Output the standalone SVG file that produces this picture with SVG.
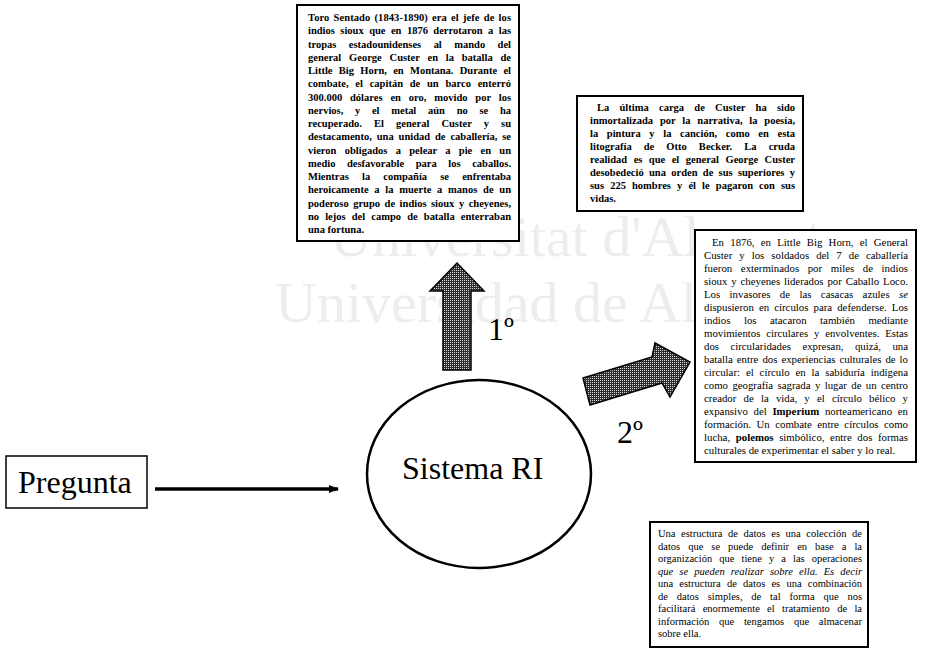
<svg xmlns="http://www.w3.org/2000/svg" width="925" height="651" viewBox="0 0 925 651">
  <defs>
    <!-- fine dither used to fill the two block arrows -->
    <pattern id="dither" width="2" height="2" patternUnits="userSpaceOnUse">
      <rect width="2" height="2" fill="#2e2e2e"/>
      <rect width="1" height="1" fill="#d8d8d8"/>
    </pattern>
    <marker id="head" viewBox="0 0 10 8" refX="9" refY="4" markerWidth="10" markerHeight="8" markerUnits="userSpaceOnUse" orient="auto">
      <path d="M0,0 L10,4 L0,8 Z" fill="#000"/>
    </marker>
    <style>
      .serif { font-family: "Liberation Serif", "Times New Roman", serif; fill: #000; }
      .big { font-size: 32px; }
      .note { fill: #fff; stroke: #000; stroke-width: 2; }
      .b { font-size: 10.5px; font-weight: bold; }
      .r { font-size: 10.8px; }
      .s { font-size: 10.5px; }
      .wm { font-family: "Liberation Serif", "Times New Roman", serif; font-size: 58px; fill: #ededed; }
      .blk { fill: url(#dither); stroke: #000; stroke-width: 1.5; stroke-linejoin: miter; }
    </style>
  </defs>

  <rect width="925" height="651" fill="#fff"/>

  <!-- faint background watermark -->
  <g id="watermark">
    <text class="wm" x="330" y="256">Universitat d'Alacant</text>
    <text class="wm" x="275" y="322">Universidad de Alicante</text>
  </g>

  <!-- connectors -->
  <g id="connectors">
    <line x1="155" y1="489" x2="338" y2="489" stroke="#000" stroke-width="3.5" marker-end="url(#head)"/>
    <!-- 1st: upward block arrow -->
    <polygon class="blk" points="443,370 443,291 430,291 457,263 484,291 471,291 471,370"/>
    <text class="serif big" x="488" y="340">1º</text>
    <!-- 2nd: block arrow toward the right -->
    <polygon class="blk" points="583,378 652,357 655,343 690,362 670,397 662,383 590,405"/>
    <text class="serif big" x="617" y="443">2º</text>
  </g>

  <g id="node-pregunta">
    <rect x="6" y="456" width="141" height="52" fill="#fff" stroke="#000" stroke-width="1.5"/>
    <text class="serif big" x="18" y="493">Pregunta</text>
  </g>

  <g id="node-sistema">
    <ellipse cx="479" cy="474" rx="112" ry="94" fill="#fff" stroke="#000" stroke-width="2.5"/>
    <text class="serif big" x="402" y="479">Sistema RI</text>
  </g>

  <g id="note-toro">
    <rect class="note" x="297" y="5" width="222" height="236"/>
    <g class="serif b">
      <text x="308" y="21" word-spacing="1.4" textLength="203" lengthAdjust="spacing">Toro Sentado (1843-1890) era el jefe de los</text>
      <text x="308" y="34.25" word-spacing="2.8" textLength="203" lengthAdjust="spacing">indios sioux que en 1876 derrotaron a las</text>
      <text x="308" y="47.5" word-spacing="9.8" textLength="203" lengthAdjust="spacing">tropas estadounidenses al mando del</text>
      <text x="308" y="60.75" word-spacing="5.15" textLength="203" lengthAdjust="spacing">general George Custer en la batalla de</text>
      <text x="308" y="74" word-spacing="3.7" textLength="203" lengthAdjust="spacing">Little Big Horn, en Montana. Durante el</text>
      <text x="308" y="87.25" word-spacing="4.1" textLength="203" lengthAdjust="spacing">combate, el capitán de un barco enterró</text>
      <text x="308" y="100.5" word-spacing="5.15" textLength="203" lengthAdjust="spacing">300.000 dólares en oro, movido por los</text>
      <text x="308" y="113.75" word-spacing="9.1" textLength="203" lengthAdjust="spacing">nervios, y el metal aún no se ha</text>
      <text x="308" y="127" word-spacing="9.45" textLength="203" lengthAdjust="spacing">recuperado. El general Custer y su</text>
      <text x="308" y="140.25" word-spacing="2.3" textLength="203" lengthAdjust="spacing">destacamento, una unidad de caballería, se</text>
      <text x="308" y="153.5" word-spacing="5.6" textLength="203" lengthAdjust="spacing">vieron obligados a pelear a pie en un</text>
      <text x="308" y="166.75" word-spacing="8.95" textLength="203" lengthAdjust="spacing">medio desfavorable para los caballos.</text>
      <text x="308" y="180" word-spacing="10.5" textLength="203" lengthAdjust="spacing">Mientras la compañía se enfrentaba</text>
      <text x="308" y="193.25" word-spacing="3.1" textLength="203" lengthAdjust="spacing">heroicamente a la muerte a manos de un</text>
      <text x="308" y="206.5" word-spacing="1.9" textLength="203" lengthAdjust="spacing">poderoso grupo de indios sioux y cheyenes,</text>
      <text x="308" y="219.75" word-spacing="3.5" textLength="203" lengthAdjust="spacing">no lejos del campo de batalla enterraban</text>
      <text x="308" y="233">una fortuna.</text>
    </g>
  </g>

  <g id="note-custer">
    <rect class="note" x="577" y="96" width="226" height="115"/>
    <g class="serif b">
      <text x="597" y="111" word-spacing="7.6" textLength="198" lengthAdjust="spacing">La última carga de Custer ha sido</text>
      <text x="590" y="124" word-spacing="4.2" textLength="205" lengthAdjust="spacing">inmortalizada por la narrativa, la poesía,</text>
      <text x="590" y="137" word-spacing="6.0" textLength="205" lengthAdjust="spacing">la pintura y la canción, como en esta</text>
      <text x="590" y="150" word-spacing="9.4" textLength="205" lengthAdjust="spacing">litografía de Otto Becker. La cruda</text>
      <text x="590" y="163" word-spacing="3.8" textLength="205" lengthAdjust="spacing">realidad es que el general George Custer</text>
      <text x="590" y="176" word-spacing="2.7" textLength="205" lengthAdjust="spacing">desobedeció una orden de sus superiores y</text>
      <text x="590" y="189" word-spacing="3.5" textLength="205" lengthAdjust="spacing">sus 225 hombres y él le pagaron con sus</text>
      <text x="590" y="202">vidas.</text>
    </g>
  </g>

  <g id="note-little-big-horn">
    <rect class="note" x="695" y="230" width="221" height="232"/>
    <g class="serif r">
      <text x="712" y="246" word-spacing="3.5" textLength="196" lengthAdjust="spacing">En 1876, en Little Big Horn, el General</text>
      <text x="704" y="259" word-spacing="4.3" textLength="204" lengthAdjust="spacing">Custer y los soldados del 7 de caballería</text>
      <text x="704" y="272" word-spacing="5.9" textLength="204" lengthAdjust="spacing">fueron exterminados por miles de indios</text>
      <text x="704" y="285" word-spacing="1.2" textLength="204" lengthAdjust="spacing">sioux y cheyenes liderados por Caballo Loco.</text>
      <text x="704" y="298" word-spacing="6.7" textLength="204" lengthAdjust="spacing">Los invasores de las casacas azules <tspan font-style="italic">se</tspan></text>
      <text x="704" y="311" word-spacing="2.4" textLength="204" lengthAdjust="spacing">dispusieron en círculos para defenderse. Los</text>
      <text x="704" y="324" word-spacing="10.8" textLength="204" lengthAdjust="spacing">indios los atacaron también mediante</text>
      <text x="704" y="337" word-spacing="3.1" textLength="204" lengthAdjust="spacing">movimientos circulares y envolventes. Estas</text>
      <text x="704" y="350" word-spacing="8.7" textLength="204" lengthAdjust="spacing">dos circularidades expresan, quizá, una</text>
      <text x="704" y="363" word-spacing="1.3" textLength="204" lengthAdjust="spacing">batalla entre dos experiencias culturales de lo</text>
      <text x="704" y="376" word-spacing="3.2" textLength="204" lengthAdjust="spacing">circular: el círculo en la sabiduría indígena</text>
      <text x="704" y="389" word-spacing="1.7" textLength="204" lengthAdjust="spacing">como geografía sagrada y lugar de un centro</text>
      <text x="704" y="402" word-spacing="4.5" textLength="204" lengthAdjust="spacing">creador de la vida, y el círculo bélico y</text>
      <text x="704" y="415" word-spacing="3.0" textLength="204" lengthAdjust="spacing">expansivo del <tspan font-weight="bold">Imperium</tspan> norteamericano en</text>
      <text x="704" y="428" word-spacing="2.8" textLength="204" lengthAdjust="spacing">formación. Un combate entre círculos como</text>
      <text x="704" y="441" word-spacing="2.9" textLength="204" lengthAdjust="spacing">lucha, <tspan font-weight="bold">polemos</tspan> simbólico, entre dos formas</text>
      <text x="704" y="454">culturales de experimentar el saber y lo real.</text>
    </g>
  </g>

  <g id="note-estructura">
    <rect class="note" x="650" y="522" width="218" height="125"/>
    <g class="serif s">
      <text x="658" y="537" word-spacing="2.9" textLength="204" lengthAdjust="spacing">Una estructura de datos es una colección de</text>
      <text x="658" y="549.5" word-spacing="5.4" textLength="204" lengthAdjust="spacing">datos que se puede definir en base a la</text>
      <text x="658" y="562" word-spacing="4.4" textLength="204" lengthAdjust="spacing">organización que tiene y a las operaciones</text>
      <text x="658" y="574.5" word-spacing="3.5" textLength="204" lengthAdjust="spacing" font-style="italic">que se pueden realizar sobre ella. Es decir</text>
      <text x="658" y="587" word-spacing="3.6" textLength="204" lengthAdjust="spacing">una estructura de datos es una combinación</text>
      <text x="658" y="599.5" word-spacing="6.2" textLength="204" lengthAdjust="spacing">de datos simples, de tal forma que nos</text>
      <text x="658" y="612" word-spacing="4.7" textLength="204" lengthAdjust="spacing">facilitará enormemente el tratamiento de la</text>
      <text x="658" y="624.5" word-spacing="7.1" textLength="204" lengthAdjust="spacing">información que tengamos que almacenar</text>
      <text x="658" y="637">sobre ella.</text>
    </g>
  </g>
</svg>
